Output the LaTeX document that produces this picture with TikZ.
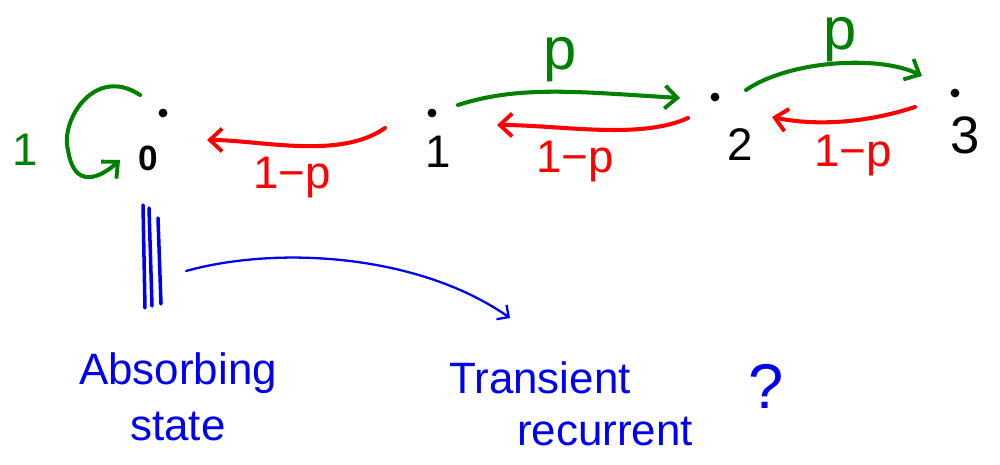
\documentclass[tikz,border=0pt]{standalone}
\usepackage{fontspec}
\setmainfont{Liberation Sans}
\usetikzlibrary{arrows.meta}
\definecolor{pengreen}{RGB}{0,128,0}
\definecolor{penred}{RGB}{255,0,0}
\definecolor{penblue}{RGB}{0,0,240}
\tikzset{
  pen/.style={line width=2.3pt, line cap=round, line join=round},
  thinpen/.style={line width=1.3pt, line cap=round, line join=round},
  barb/.style={-{Straight Barb[length=7pt,width=13pt,line width=2.2pt]}},
  thinbarb/.style={-{Straight Barb[length=5pt,width=10pt,line width=1.3pt]}},
  statedot/.style={circle, fill=black, inner sep=0pt, minimum size=5pt},
  statenum/.style={inner sep=1pt, font=\fontsize{26}{28}\selectfont},
  prob/.style={inner sep=1pt, font=\fontsize{26}{28}\selectfont},
  note/.style={inner sep=1pt, text=penblue, align=center, font=\fontsize{25}{30}\selectfont},
  tally/.style={line width=2pt, penblue, line cap=round},
}
\begin{document}
\begin{tikzpicture}[x=0.02cm, y=-0.02cm]
\useasboundingbox (0,0) rectangle (1000,465);

% states: a dot above each state number
\node[statedot] (d0) at (163,113) {};
\node[statenum, font=\fontsize{20}{22}\bfseries] (s0) at (148,158) {0};
\node[statedot] (d1) at (432,113) {};
\node[statenum] (s1) at (438,152) {1};
\node[statedot] (d2) at (715,97) {};
\node[statenum] (s2) at (740,145) {2};
\node[statedot] (d3) at (955,93) {};
\node[statenum, font=\fontsize{30}{32}\selectfont] (s3) at (965,135) {3};

% self loop on state 0 with probability 1
\node[prob, text=pengreen] (one) at (25,150) {1};
\coordinate (la) at (140,95);
\coordinate (lb) at (120,160);
\draw[pen, pengreen, barb] (la) .. controls (95,65) and (60,120) .. (68,150)
      .. controls (74,190) and (100,178) .. (lb);

% moves down with probability 1-p
\coordinate (r10a) at (385,128);
\coordinate (r10b) at (207,140);
\draw[pen, penred, barb] (r10a) .. controls (340,160) and (260,140) .. (r10b);
\node[prob, text=penred] (q10) at (292,178) {1−p};

\coordinate (r21a) at (688,118);
\coordinate (r21b) at (497,125);
\draw[pen, penred, barb] (r21a) .. controls (640,140) and (560,125) .. (r21b);
\node[prob, text=penred] (q21) at (575,162) {1−p};

\coordinate (r32a) at (915,107);
\coordinate (r32b) at (772,117);
\draw[pen, penred, barb] (r32a) .. controls (860,125) and (810,125) .. (r32b);
\node[prob, text=penred] (q32) at (853,156) {1−p};

% moves up with probability p
\coordinate (g12a) at (458,105);
\coordinate (g12b) at (680,98);
\draw[pen, pengreen, barb] (g12a) .. controls (520,85) and (580,92) .. (g12b);
\node[prob, text=pengreen, font=\fontsize{34}{36}\selectfont] (p12) at (560,60) {p};

\coordinate (g23a) at (746,90);
\coordinate (g23b) at (922,76);
\draw[pen, pengreen, barb] (g23a) .. controls (790,60) and (880,55) .. (g23b);
\node[prob, text=pengreen, font=\fontsize{34}{36}\selectfont] (p23) at (840,40) {p};

% classification notes
\draw[tally] (143,205) -- (145,308);
\draw[tally] (149,208) -- (152,306);
\draw[tally] (158,218) -- (161,304);
\node[note] (abs) at (178,397) {Absorbing\\[2pt]state};
\node[note] (tr) at (540,378) {Transient};
\node[note] (rec) at (605,432) {recurrent};
\node[note, font=\fontsize{36}{38}\selectfont] (qm) at (766,386) {?};
\coordinate (ba) at (186,271);
\coordinate (bb) at (510,318);
\draw[thinpen, penblue, thinbarb] (ba) .. controls (280,245) and (420,255) .. (bb);
\end{tikzpicture}
\end{document}
